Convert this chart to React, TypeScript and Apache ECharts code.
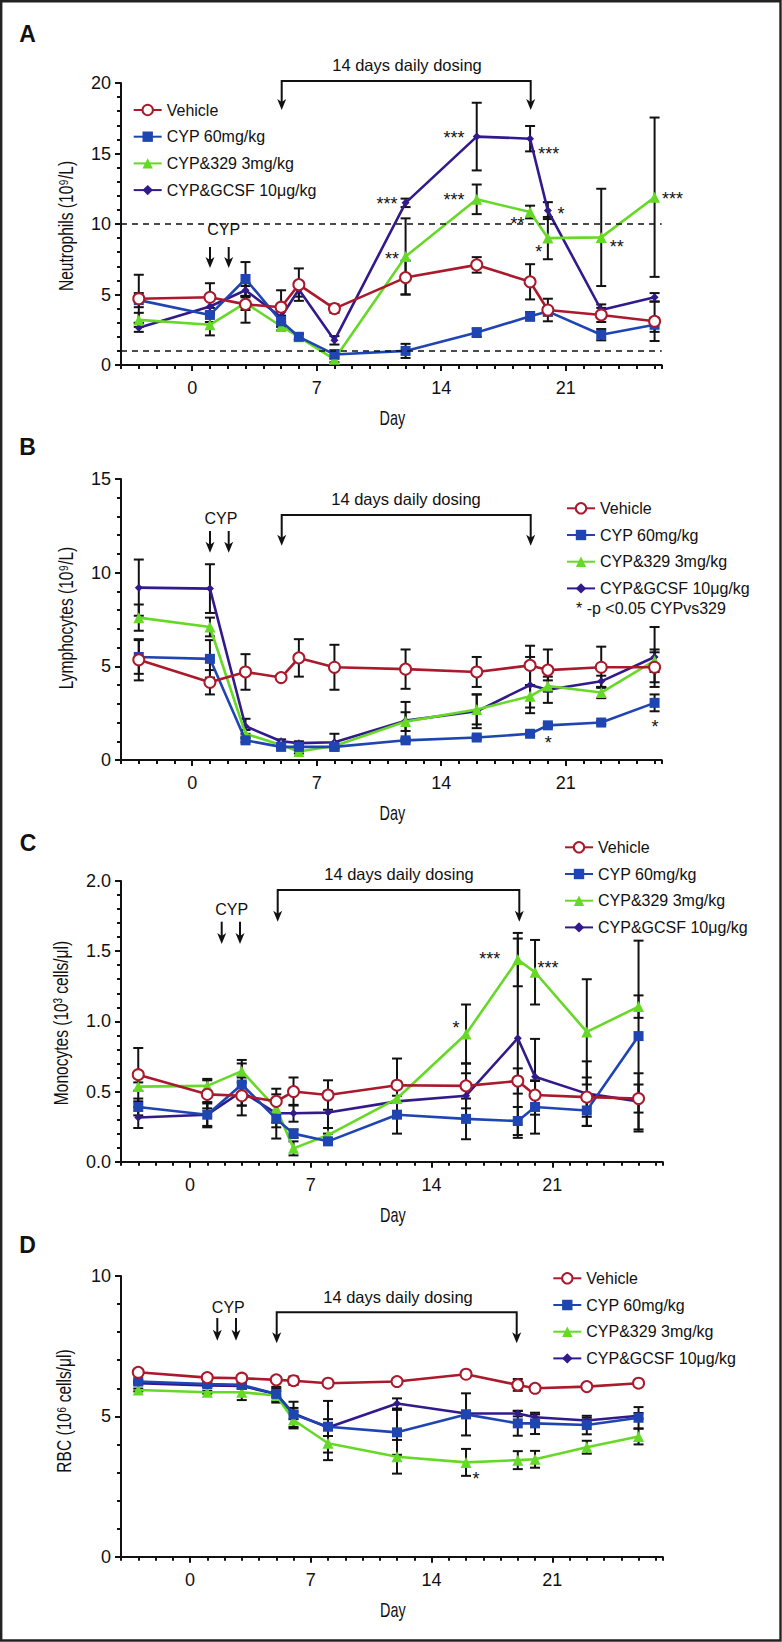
import React, { useEffect, useRef } from "react";
import * as echarts from "echarts";

// ---------- shared data ----------
const days = [-3, 1, 3, 5, 6, 8, 12, 16, 19, 20, 23, 26];
const seriesNames = ["Vehicle", "CYP 60mg/kg", "CYP&329 3mg/kg", "CYP&GCSF 10μg/kg"];
const xTickValues = [0, 7, 14, 21];

// ---------- Panel A: Neutrophils (10^9/L) ----------
const neutVehicle = [4.7, 4.8, 4.3, 4.1, 5.7, 4.0, 6.2, 7.1, 5.9, 3.9, 3.55, 3.1];
const neutCyp = [4.6, 3.55, 6.1, 3.1, 2.0, 0.75, 1.0, 2.3, 3.45, 3.8, 2.15, 2.85];
const neut329 = [3.2, 2.85, 4.4, 2.75, 2.0, 0.4, 7.7, 11.75, 10.85, 9.0, 9.05, 11.9];
const neutGcsf = [2.65, 4.15, 5.3, 3.4, 5.35, 1.75, 11.5, 16.2, 16.05, 10.95, 3.9, 4.8];
const neutVehicleErr = [1.7, 1.0, 1.3, 1.2, 1.15, 0.3, 1.2, 0.55, 1.25, 0.8, 0.5, 1.4];
const neutCypErr = [0.5, 0.5, 1.2, 0.4, 0.2, 0.3, 0.5, 0.3, 0.3, 0.3, 0.4, 0.5];
const neut329Err = [0.5, 0.75, 0.5, 0.3, 0.2, 0.2, 2.7, 1.05, 0.45, 1.5, 3.45, 5.65];
const neutGcsfErr = [0.3, 0.5, 0.5, 0.4, 0.5, 0.3, 0.3, 2.4, 0.9, 0.6, 0.4, 0.3];
const neutThresholds = [10, 1];

// ---------- Panel B: Lymphocytes (10^9/L) ----------
const lymVehicle = [5.35, 4.15, 4.7, 4.4, 5.45, 4.95, 4.85, 4.7, 5.05, 4.8, 4.95, 4.95];
const lymCyp = [5.5, 5.4, 1.05, 0.7, 0.7, 0.7, 1.05, 1.2, 1.4, 1.85, 2.0, 3.05];
const lym329 = [7.6, 7.1, 1.4, 0.8, 0.45, 0.75, 2.05, 2.7, 3.4, 3.95, 3.6, 5.3];
const lymGcsf = [9.2, 9.15, 1.8, 1.0, 0.9, 0.95, 2.1, 2.6, 4.0, 3.75, 4.2, 5.5];
const lymVehicleErr = [1.1, 0.65, 0.95, 0.1, 1.0, 1.2, 1.05, 0.8, 1.05, 1.1, 1.1, 0.8];
const lymCypErr = [0.9, 1.0, 0.1, 0.1, 0.1, 0.1, 0.1, 0.1, 0.1, 0.1, 0.1, 0.45];
const lym329Err = [0.7, 0.5, 0.2, 0.1, 0.1, 0.1, 0.5, 0.8, 0.6, 0.3, 0.3, 0.6];
const lymGcsfErr = [1.5, 1.3, 0.4, 0.1, 0.1, 0.45, 1.0, 0.9, 1.5, 0.7, 0.3, 1.6];

// ---------- Panel C: Monocytes (10^3 cells/μl) ----------
const monoVehicle = [0.62, 0.48, 0.47, 0.43, 0.5, 0.475, 0.545, 0.54, 0.575, 0.475, 0.46, 0.45];
const monoCyp = [0.39, 0.335, 0.55, 0.305, 0.2, 0.145, 0.335, 0.305, 0.29, 0.39, 0.365, 0.895];
const mono329 = [0.535, 0.54, 0.645, 0.38, 0.095, 0.19, 0.45, 0.91, 1.44, 1.35, 0.925, 1.105];
const monoGcsf = [0.315, 0.335, 0.5, 0.345, 0.345, 0.35, 0.43, 0.47, 0.88, 0.605, 0.485, 0.43];
const monoVehicleErr = [0.19, 0.1, 0.14, 0.09, 0.1, 0.105, 0.19, 0.16, 0.09, 0.1, 0.14, 0.1];
const monoCypErr = [0.06, 0.09, 0.15, 0.14, 0.03, 0.02, 0.135, 0.145, 0.1, 0.19, 0.11, 0.68];
const mono329Err = [0.03, 0.05, 0.08, 0.1, 0.05, 0.05, 0.12, 0.21, 0.19, 0.23, 0.375, 0.08];
const monoGcsfErr = [0.075, 0.08, 0.1, 0.1, 0.06, 0.15, 0.1, 0.16, 0.71, 0.27, 0.23, 0.2];

// ---------- Panel D: RBC (10^6 cells/μl) ----------
const rbcVehicle = [6.57, 6.38, 6.36, 6.3, 6.27, 6.18, 6.24, 6.5, 6.12, 6.0, 6.06, 6.18];
const rbcCyp = [6.24, 6.15, 6.12, 5.8, 5.07, 4.63, 4.43, 5.07, 4.75, 4.75, 4.69, 4.95];
const rbc329 = [5.94, 5.86, 5.86, 5.74, 4.87, 4.04, 3.56, 3.36, 3.44, 3.47, 3.9, 4.28];
const rbcGcsf = [6.18, 6.1, 6.08, 5.8, 5.1, 4.6, 5.46, 5.1, 5.1, 4.97, 4.85, 5.02];
const rbcVehicleErr = [0.05, 0.05, 0.05, 0.05, 0.15, 0.05, 0.05, 0.05, 0.21, 0.05, 0.05, 0.05];
const rbcCypErr = [0.05, 0.05, 0.1, 0.25, 0.45, 0.92, 0.8, 0.75, 0.44, 0.38, 0.33, 0.38];
const rbc329Err = [0.05, 0.05, 0.28, 0.25, 0.3, 0.6, 0.6, 0.48, 0.32, 0.3, 0.23, 0.28];
const rbcGcsfErr = [0.05, 0.05, 0.1, 0.1, 0.2, 0.3, 0.18, 0.1, 0.1, 0.1, 0.1, 0.1];

// ---------- styling ----------
const colors = ["#aa1a2c", "#1e45b2", "#66d926", "#321a8c"];
const symbols = ["emptyCircle", "rect", "triangle", "diamond"];
const symbolSizes = [11, 10, 11, 8];
const sans = "'Liberation Sans', Arial, Helvetica, sans-serif";
const ink = "#111";
const condense = 0.74; // horizontal squeeze that imitates the condensed title face

type Panel = {
  letter: string;
  yName: string;
  yMax: number;
  yInterval: number;
  decimals: number;
  xMax: number;
  grid: { left: number; top: number; width: number; height: number };
  values: number[][];
  errors: number[][];
  legend: { left: number; top: number };
  letterPos: [number, number];
  yTitlePos: [number, number];
  bracket: { x1: number; x2: number; yh: number; tip: number; tx: number; ty: number };
  cyp: { tx: number; ty: number; xs: number[]; y1: number; y2: number };
  stars: [number, number, string][];
  thresholds?: number[];
};

const panels: Panel[] = [
  {
    letter: "A", yName: "Neutrophils (10⁹/L)", yMax: 20, yInterval: 5, decimals: 0, xMax: 26.4,
    grid: { left: 121, top: 83, width: 540.7, height: 282 },
    values: [neutVehicle, neutCyp, neut329, neutGcsf],
    errors: [neutVehicleErr, neutCypErr, neut329Err, neutGcsfErr],
    legend: { left: 132.7, top: 102 }, letterPos: [27.5, 33.5], yTitlePos: [66, 226],
    bracket: { x1: 281.7, x2: 530.7, yh: 81, tip: 110, tx: 407, ty: 65 },
    cyp: { tx: 223.7, ty: 229, xs: [210, 228.7], y1: 247, y2: 268 },
    stars: [[387, 200, "***"], [392, 255, "**"], [454, 134, "***"], [454, 196, "***"], [548.7, 150, "***"],
      [517.5, 220, "**"], [561, 210, "*"], [538.7, 248.3, "*"], [616.7, 242.7, "**"], [672.5, 195, "***"]],
    thresholds: neutThresholds,
  },
  {
    letter: "B", yName: "Lymphocytes (10⁹/L)", yMax: 15, yInterval: 5, decimals: 0, xMax: 26.4,
    grid: { left: 121, top: 479, width: 540.7, height: 281 },
    values: [lymVehicle, lymCyp, lym329, lymGcsf],
    errors: [lymVehicleErr, lymCypErr, lym329Err, lymGcsfErr],
    legend: { left: 566, top: 500.3 }, letterPos: [27.5, 446.7], yTitlePos: [66, 618],
    bracket: { x1: 281.7, x2: 530.7, yh: 515, tip: 545.7, tx: 406, ty: 499 },
    cyp: { tx: 221, ty: 518.3, xs: [210, 228.7], y1: 531, y2: 552.7 },
    stars: [[548.3, 739.3, "*"], [655, 723.3, "*"]],
  },
  {
    letter: "C", yName: "Monocytes (10³ cells/μl)", yMax: 2, yInterval: 0.5, decimals: 1, xMax: 27.4,
    grid: { left: 121, top: 881, width: 541.7, height: 280.7 },
    values: [monoVehicle, monoCyp, mono329, monoGcsf],
    errors: [monoVehicleErr, monoCypErr, mono329Err, monoGcsfErr],
    legend: { left: 564, top: 839.3 }, letterPos: [28, 843], yTitlePos: [61, 1023],
    bracket: { x1: 277.7, x2: 519.3, yh: 890, tip: 921.7, tx: 399, ty: 874 },
    cyp: { tx: 231.7, ty: 909.3, xs: [221.7, 240], y1: 921.7, y2: 944 },
    stars: [[489.7, 955, "***"], [548, 964, "***"], [456, 1024, "*"]],
  },
  {
    letter: "D", yName: "RBC (10⁶ cells/μl)", yMax: 10, yInterval: 5, decimals: 0, xMax: 27.4,
    grid: { left: 121, top: 1276, width: 541.7, height: 280.7 },
    values: [rbcVehicle, rbcCyp, rbc329, rbcGcsf],
    errors: [rbcVehicleErr, rbcCypErr, rbc329Err, rbcGcsfErr],
    legend: { left: 552.3, top: 1270.3 }, letterPos: [27.5, 1245], yTitlePos: [64, 1411],
    bracket: { x1: 276.7, x2: 516.7, yh: 1312.3, tip: 1343.3, tx: 398, ty: 1296.7 },
    cyp: { tx: 228.3, ty: 1307.7, xs: [217.3, 236], y1: 1318, y2: 1340.7 },
    stars: [[476, 1475, "*"]],
  },
];
const footnoteB = "* -p <0.05 CYPvs329";

// ---------- helpers ----------
const arrowHead = (x: number, tip: number) => ({
  type: "polygon",
  shape: { points: [[x - 4.5, tip - 11], [x, tip - 8], [x + 4.5, tip - 11], [x, tip]] },
  style: { fill: ink },
  z: 20,
});
const downArrow = (x: number, y1: number, y2: number) => [
  { type: "line", shape: { x1: x, y1, x2: x, y2: y2 - 6 }, style: { stroke: ink, lineWidth: 2 }, z: 20 },
  arrowHead(x, y2),
];
const textEl = (x: number, y: number, text: string, fontSize: number, extra: any = {}, el: any = {}) => ({
  type: "text",
  x,
  y,
  z: 20,
  ...el,
  style: { text, fontSize, fontFamily: sans, fill: ink, align: "center", verticalAlign: "middle", ...extra },
});

function buildOption() {
  const grid: any[] = [];
  const xAxis: any[] = [];
  const yAxis: any[] = [];
  const series: any[] = [];
  const legend: any[] = [];
  const graphic: any[] = [];

  graphic.push({
    type: "rect",
    shape: { x: 1.2, y: 1.2, width: 779.3, height: 1639.3 },
    style: { fill: "none", stroke: "#222", lineWidth: 2.4 },
    z: 30,
  });

  panels.forEach((p, i) => {
    grid.push({ ...p.grid, containLabel: false });
    const axisLineStyle = { color: ink, width: 2 };
    xAxis.push({
      type: "value",
      gridIndex: i,
      position: "bottom",
      min: -4,
      max: p.xMax,
      axisLine: { show: true, onZero: false, lineStyle: axisLineStyle },
      axisTick: { show: true, length: 6, lineStyle: { color: ink, width: 2 }, customValues: xTickValues },
      axisLabel: { show: true, customValues: xTickValues, fontFamily: sans, fontSize: 18, color: ink, margin: 14 },
      splitLine: { show: false },
    });
    xAxis.push({
      type: "value",
      gridIndex: i,
      position: "bottom",
      min: -4,
      max: p.xMax,
      interval: 1,
      axisLine: { show: false },
      axisTick: { show: true, length: 4, lineStyle: { color: ink, width: 2 } },
      axisLabel: { show: false },
      splitLine: { show: false },
    });
    yAxis.push({
      type: "value",
      gridIndex: i,
      min: 0,
      max: p.yMax,
      interval: p.yInterval,
      axisLine: { show: true, onZero: false, lineStyle: axisLineStyle },
      axisTick: { show: true, length: 6, lineStyle: { color: ink, width: 2 } },
      minorTick: { show: true, splitNumber: 5, length: 4, lineStyle: { color: ink, width: 2 } },
      axisLabel: {
        fontFamily: sans,
        fontSize: 18,
        color: ink,
        margin: 10,
        formatter: (v: number) => v.toFixed(p.decimals),
      },
      splitLine: { show: false },
      minorSplitLine: { show: false },
    });

    // draw order: GCSF, 329, CYP, Vehicle (vehicle on top)
    [3, 2, 1, 0].forEach((s, order) => {
      series.push({
        type: "custom",
        name: "err-" + p.letter + s,
        xAxisIndex: i * 2,
        yAxisIndex: i,
        z: 2 + order * 0.01,
        silent: true,
        data: days.map((d, k) => [d, p.values[s][k], p.errors[s][k]]),
        encode: { x: 0, y: 1 },
        renderItem: (params: any, api: any) => {
          const x = api.value(0);
          const y = api.value(1);
          const e = api.value(2);
          const top = api.coord([x, y + e]);
          const bot = api.coord([x, Math.max(0, y - e)]);
          const hw = 5;
          const st = { stroke: ink, lineWidth: 2 };
          return {
            type: "group",
            children: [
              { type: "line", shape: { x1: top[0], y1: top[1], x2: bot[0], y2: bot[1] }, style: st },
              { type: "line", shape: { x1: top[0] - hw, y1: top[1], x2: top[0] + hw, y2: top[1] }, style: st },
              { type: "line", shape: { x1: bot[0] - hw, y1: bot[1], x2: bot[0] + hw, y2: bot[1] }, style: st },
            ],
          };
        },
      });
    });
    [3, 2, 1, 0].forEach((s, order) => {
      const ser: any = {
        type: "line",
        name: seriesNames[s],
        xAxisIndex: i * 2,
        yAxisIndex: i,
        z: 3 + order * 0.01,
        data: days.map((d, k) => [d, p.values[s][k]]),
        symbol: symbols[s],
        symbolSize: symbolSizes[s],
        showAllSymbol: true,
        lineStyle: { color: colors[s], width: 2.6 },
        itemStyle: { color: colors[s], borderWidth: s === 0 ? 2.2 : 0 },
        emphasis: { disabled: true },
      };
      if (s === 0 && p.thresholds) {
        ser.markLine = {
          silent: true,
          symbol: ["none", "none"],
          label: { show: false },
          lineStyle: { type: [6, 5], color: ink, width: 1.6 },
          data: p.thresholds.map((t) => ({ yAxis: t })),
        };
      }
      series.push(ser);
    });

    legend.push({
      orient: "vertical",
      left: p.legend.left,
      top: p.legend.top,
      padding: 0,
      itemWidth: 28,
      itemHeight: 13,
      itemGap: 10.7,
      selectedMode: false,
      textStyle: { fontFamily: sans, fontSize: 16, color: ink, lineHeight: 16 },
      data: seriesNames,
    });

    // panel letter
    graphic.push(textEl(p.letterPos[0], p.letterPos[1], p.letter, 23, { fontWeight: "bold" }));
    // axis titles (condensed look)
    graphic.push(textEl(p.yTitlePos[0], p.yTitlePos[1], p.yName, 21, {}, { rotation: Math.PI / 2, scaleX: condense }));
    const xMid = p.grid.left + p.grid.width / 2;
    graphic.push(textEl(xMid + 1, p.grid.top + p.grid.height + 53, "Day", 20, {}, { scaleX: 0.72 }));
    // dosing bracket
    const b = p.bracket;
    graphic.push({
      type: "polyline",
      shape: { points: [[b.x1, b.tip - 6], [b.x1, b.yh], [b.x2, b.yh], [b.x2, b.tip - 6]] },
      style: { stroke: ink, lineWidth: 2, fill: "none" },
      z: 20,
    });
    graphic.push(arrowHead(b.x1, b.tip));
    graphic.push(arrowHead(b.x2, b.tip));
    graphic.push(textEl(b.tx, b.ty, "14 days daily dosing", 16.5));
    // CYP arrows
    graphic.push(textEl(p.cyp.tx, p.cyp.ty, "CYP", 16));
    p.cyp.xs.forEach((x) => downArrow(x, p.cyp.y1, p.cyp.y2).forEach((el) => graphic.push(el)));
    // significance stars (glyph sits ~4px above the text box centre)
    p.stars.forEach(([x, y, t]) => graphic.push(textEl(x, y + 4, t, 18)));
  });

  graphic.push(textEl(576, 608.3, footnoteB, 16, { align: "left" }));

  return {
    animation: false,
    backgroundColor: "#ffffff",
    grid,
    xAxis,
    yAxis,
    series,
    legend,
    graphic,
  };
}

export default function App() {
  const ref = useRef<HTMLDivElement | null>(null);
  useEffect(() => {
    document.body.style.margin = "0";
    if (!ref.current) return;
    const chart = echarts.init(ref.current, undefined, { renderer: "svg" });
    chart.setOption(buildOption() as any);
    return () => chart.dispose();
  }, []);
  return (
    <div
      ref={ref}
      style={{ position: "absolute", left: 0, top: 0, width: 782, height: 1642, background: "#fff" }}
    />
  );
}
